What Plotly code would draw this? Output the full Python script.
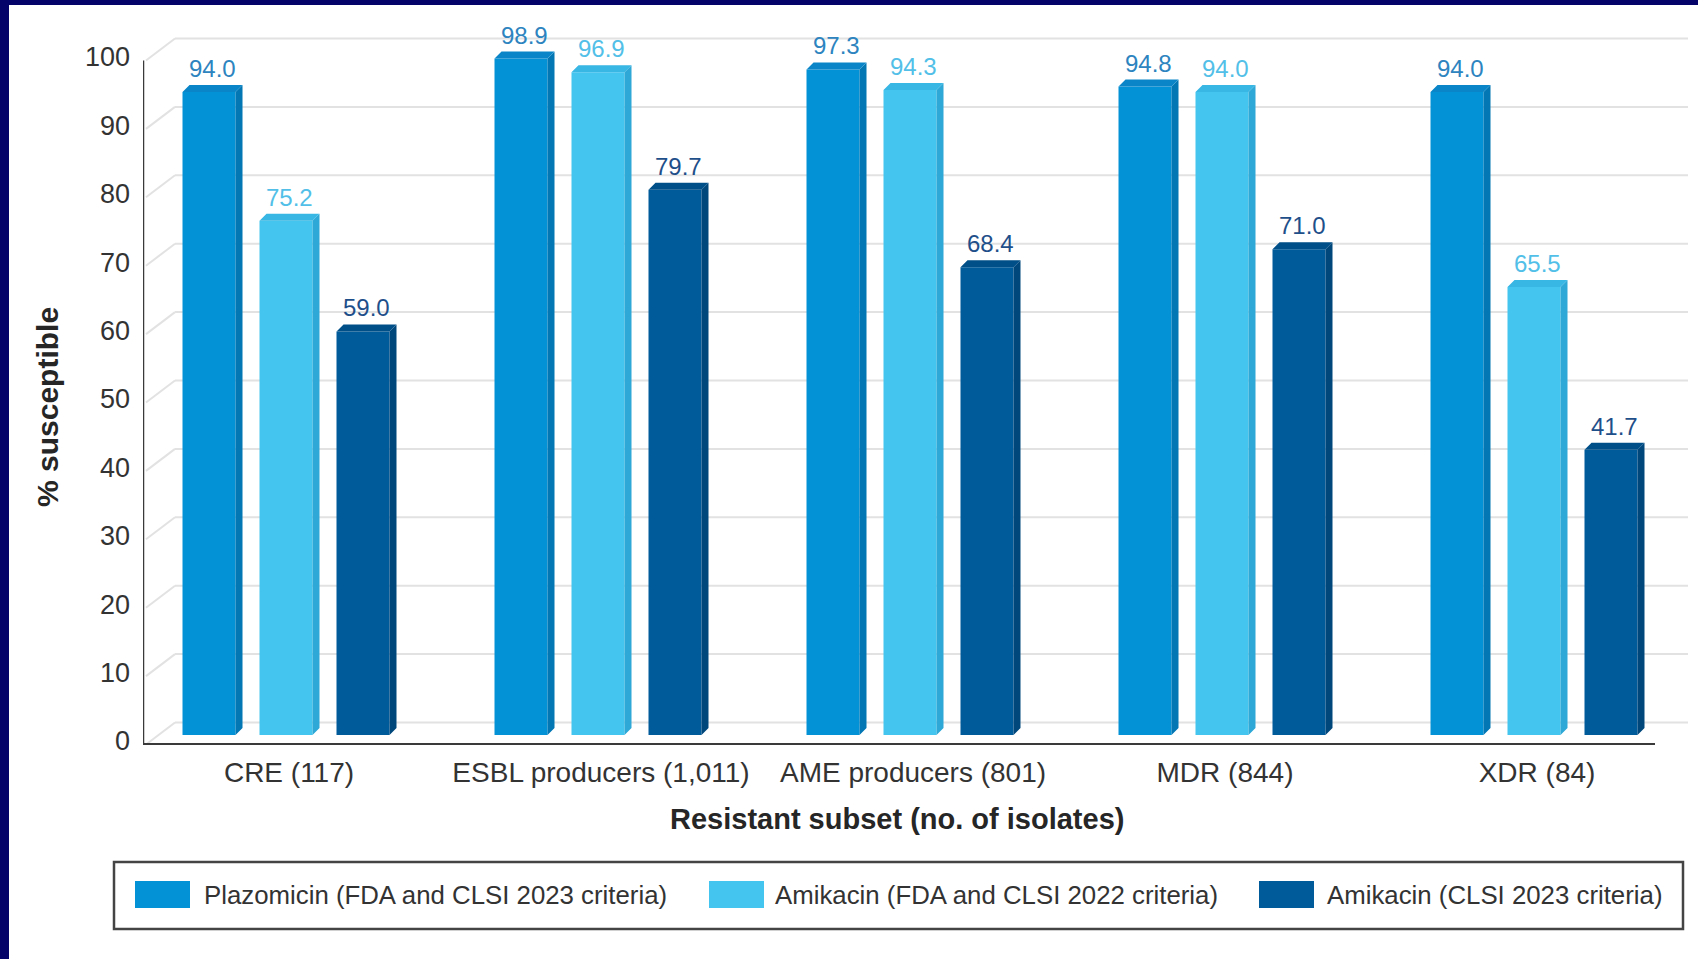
import plotly.graph_objects as go

# ---------------- data ----------------
categories = ["CRE (117)", "ESBL producers (1,011)", "AME producers (801)", "MDR (844)", "XDR (84)"]
series_names = ["Plazomicin (FDA and CLSI 2023 criteria)",
                "Amikacin (FDA and CLSI 2022 criteria)",
                "Amikacin (CLSI 2023 criteria)"]
plazomicin = [94.0, 98.9, 97.3, 94.8, 94.0]
amikacin_2022 = [75.2, 96.9, 94.3, 94.0, 65.5]
amikacin_2023 = [59.0, 79.7, 68.4, 71.0, 41.7]
y_ticks = [0, 10, 20, 30, 40, 50, 60, 70, 80, 90, 100]

# ---------------- styling ----------------
FONT = "Liberation Sans, Arial, sans-serif"
front_cols = ["#0492d6", "#44c5f0", "#005b9b"]
side_cols = ["#0377b4", "#2ea8d6", "#00477c"]
top_cols = ["#0a86c8", "#38b6e4", "#004f88"]
label_cols = ["#2d84bf", "#52bfe8", "#1f4f8a"]

W, H = 1698, 959
ML, MR, MT, MB = 143, 8, 20, 214
PW, PH = W - ML - MR, H - MT - MB
GROUP_PX = 312.0          # px between category centres
CAT0_PX = 289.0           # px position of first category centre
UNIT_PX = 6.84            # px per % point
ZERO_PX = 735.0           # px of bar baseline

x_lo = (ML - CAT0_PX) / GROUP_PX
x_hi = (W - MR - CAT0_PX) / GROUP_PX
y_lo = -(MT + PH - ZERO_PX) / UNIT_PX
y_hi = (ZERO_PX - MT) / UNIT_PX

def px_x(px):
    return (px - CAT0_PX) / GROUP_PX

def dpx_x(d):
    return d / GROUP_PX

def dpx_y(d):
    return d / UNIT_PX

def paper_x(px):
    return (px - ML) / PW

def paper_y(py):
    return (MT + PH - py) / PH

bar_w = dpx_x(53)
step = dpx_x(77)
first = dpx_x(-80)
DX, DY = dpx_x(7), dpx_y(7)

fig = go.Figure()
series = [plazomicin, amikacin_2022, amikacin_2023]
xs = list(range(len(categories)))

shapes = []
annotations = []

# background plane gridlines with perspective diagonals
back_rise = dpx_y(12.5)
front_drop = dpx_y(9.5)
for v in y_ticks:
    shapes.append(dict(type="line", xref="x", yref="y",
                       x0=px_x(175), x1=px_x(1688), y0=v + back_rise, y1=v + back_rise,
                       line=dict(color="#e2e2e2", width=2), layer="below"))
    shapes.append(dict(type="line", xref="x", yref="y",
                       x0=px_x(146), x1=px_x(175), y0=v - front_drop, y1=v + back_rise,
                       line=dict(color="#e2e2e2", width=2), layer="below"))

for j, vals in enumerate(series):
    centre_off = first + j * step
    fig.add_trace(go.Bar(
        x=xs, y=vals, name=series_names[j],
        offset=centre_off - bar_w / 2, width=bar_w,
        marker=dict(color=front_cols[j], line=dict(width=0)),
        showlegend=False, hoverinfo="skip",
    ))
    # side faces and top faces (3D look)
    sx, sy, tx, ty = [], [], [], []
    for i, v in zip(xs, vals):
        xl = i + centre_off - bar_w / 2
        xr = i + centre_off + bar_w / 2
        sx += [xr, xr + DX, xr + DX, xr, xr, None]
        sy += [0, DY, v + DY, v, 0, None]
        tx += [xl, xl + DX, xr + DX, xr, xl, None]
        ty += [v, v + DY, v + DY, v, v, None]
    fig.add_trace(go.Scatter(x=sx, y=sy, mode="lines", fill="toself",
                             fillcolor=side_cols[j], line=dict(width=0, color=side_cols[j]),
                             showlegend=False, hoverinfo="skip"))
    fig.add_trace(go.Scatter(x=tx, y=ty, mode="lines", fill="toself",
                             fillcolor=top_cols[j], line=dict(width=0, color=top_cols[j]),
                             showlegend=False, hoverinfo="skip"))
    # value labels
    for i, v in zip(xs, vals):
        annotations.append(dict(xref="x", yref="y", x=i + centre_off + DX / 2, y=v,
                                xanchor="center", yanchor="bottom", yshift=8,
                                showarrow=False, text=f"{v:.1f}",
                                font=dict(family=FONT, size=24, color=label_cols[j])))

# front axis lines
shapes.append(dict(type="line", xref="x", yref="y",
                   x0=px_x(143), x1=px_x(1655), y0=-front_drop, y1=-front_drop,
                   line=dict(color="#3a3a3a", width=3)))
shapes.append(dict(type="line", xref="x", yref="y",
                   x0=px_x(143), x1=px_x(143), y0=-front_drop, y1=100 - front_drop,
                   line=dict(color="#3a3a3a", width=2.5)))

# navy frame (left + top)
shapes.append(dict(type="rect", xref="paper", yref="paper",
                   x0=paper_x(0), x1=paper_x(9), y0=paper_y(H), y1=paper_y(0),
                   fillcolor="#03036a", line=dict(width=0)))
shapes.append(dict(type="rect", xref="paper", yref="paper",
                   x0=paper_x(0), x1=paper_x(W), y0=paper_y(5), y1=paper_y(0),
                   fillcolor="#03036a", line=dict(width=0)))

# custom legend
shapes.append(dict(type="rect", xref="paper", yref="paper",
                   x0=paper_x(114), x1=paper_x(1683), y0=paper_y(929), y1=paper_y(862),
                   fillcolor="white", line=dict(color="#444444", width=2.5)))
leg_sw = [135, 709, 1259]
leg_tx = [202, 773, 1325]
for j in range(3):
    shapes.append(dict(type="rect", xref="paper", yref="paper",
                       x0=paper_x(leg_sw[j]), x1=paper_x(leg_sw[j] + 55),
                       y0=paper_y(908), y1=paper_y(881),
                       fillcolor=front_cols[j], line=dict(width=0)))
    annotations.append(dict(xref="paper", yref="paper", x=paper_x(leg_tx[j]), y=paper_y(895),
                            xanchor="left", yanchor="middle", showarrow=False,
                            text=series_names[j],
                            font=dict(family=FONT, size=25.8, color="#333333")))

# axis titles
annotations.append(dict(xref="paper", yref="paper", x=paper_x(897), y=paper_y(819),
                        xanchor="center", yanchor="middle", showarrow=False,
                        text="<b>Resistant subset (no. of isolates)</b>",
                        font=dict(family=FONT, size=29, color="#262626")))
annotations.append(dict(xref="paper", yref="paper", x=paper_x(47), y=paper_y(407),
                        xanchor="center", yanchor="middle", showarrow=False, textangle=-90,
                        text="<b>% susceptible</b>",
                        font=dict(family=FONT, size=30, color="#262626")))

fig.update_layout(
    width=W, height=H,
    margin=dict(l=ML, r=MR, t=MT, b=MB, pad=0),
    paper_bgcolor="white", plot_bgcolor="white",
    barmode="overlay",
    showlegend=False,
    shapes=shapes, annotations=annotations,
    xaxis=dict(range=[x_lo, x_hi], tickmode="array", tickvals=xs, ticktext=categories,
               showgrid=False, zeroline=False, showline=False, ticks="", tickangle=0,
               ticklabelstandoff=8,
               tickfont=dict(family=FONT, size=28, color="#333333")),
    yaxis=dict(range=[y_lo, y_hi], tickmode="array", tickvals=y_ticks,
               showgrid=False, zeroline=False, showline=False, ticks="",
               ticklabelstandoff=12, ticklabelshift=6,
               tickfont=dict(family=FONT, size=27, color="#333333")),
)

fig.write_html("out.html")
